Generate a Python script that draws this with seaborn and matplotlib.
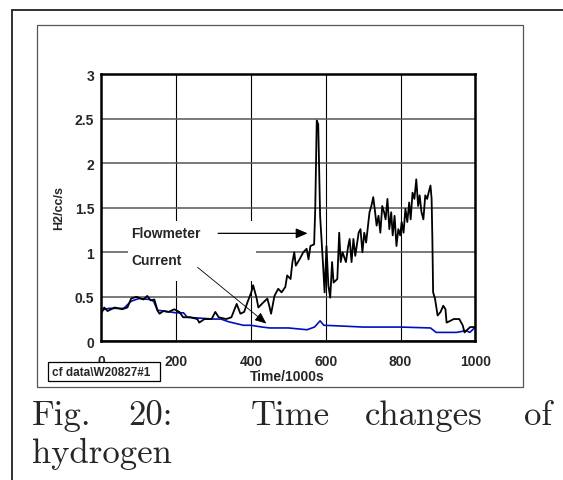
import matplotlib
matplotlib.use("Agg")
import matplotlib.pyplot as plt
import seaborn as sns
from matplotlib.lines import Line2D
from matplotlib.patches import Rectangle

# Flowmeter (black trace)
flow_time = [0, 8, 17, 36, 56, 70, 80, 94, 113, 123, 132, 142, 151, 156, 166, 180,
             195, 209, 219, 238, 257, 262, 276, 295, 305, 314, 334, 348, 362, 372,
             382, 391, 401, 406, 415, 420, 434, 444, 449, 454, 463, 473, 482, 492,
             497, 506, 511, 516, 520, 530, 540, 549, 554, 559, 569, 572, 576, 580,
             585, 590, 593, 597, 602, 607, 612, 617, 621, 631, 636, 640, 645, 654,
             660, 664, 669, 674, 679, 688, 693, 698, 703, 708, 717, 722, 727, 732,
             736, 741, 746, 751, 756, 760, 765, 770, 775, 779, 784, 789, 794, 799,
             803, 808, 813, 818, 823, 827, 832, 837, 842, 847, 851, 856, 861, 866,
             871, 875, 880, 883, 885, 887, 892, 899, 907, 914, 920, 923, 933, 942,
             957, 966, 971, 981, 986, 995, 1000]
flow_rate = [0.31, 0.38, 0.34, 0.38, 0.36, 0.38, 0.48, 0.50, 0.47, 0.51, 0.46, 0.47,
             0.34, 0.31, 0.34, 0.33, 0.36, 0.33, 0.27, 0.27, 0.25, 0.21, 0.25, 0.25,
             0.33, 0.27, 0.25, 0.27, 0.42, 0.31, 0.33, 0.44, 0.55, 0.63, 0.49, 0.38,
             0.44, 0.48, 0.40, 0.31, 0.51, 0.59, 0.55, 0.61, 0.74, 0.70, 0.89, 1.00,
             0.85, 0.92, 1.00, 1.04, 0.92, 1.07, 1.09, 1.49, 2.48, 2.44, 1.41, 1.07,
             0.85, 0.55, 1.07, 0.63, 0.49, 0.89, 0.66, 0.70, 1.22, 0.89, 1.00, 0.89,
             1.07, 1.15, 0.89, 1.15, 0.96, 1.22, 1.26, 1.00, 1.22, 1.11, 1.45, 1.52,
             1.62, 1.45, 1.30, 1.41, 1.22, 1.52, 1.45, 1.37, 1.60, 1.26, 1.45, 1.19,
             1.41, 1.07, 1.26, 1.19, 1.34, 1.22, 1.49, 1.34, 1.56, 1.37, 1.67, 1.60,
             1.82, 1.52, 1.64, 1.45, 1.37, 1.64, 1.60, 1.67, 1.75, 1.60, 1.15, 0.55,
             0.48, 0.29, 0.33, 0.40, 0.36, 0.21, 0.23, 0.25, 0.25, 0.18, 0.10, 0.14,
             0.16, 0.16, 0.16]

# Current (blue trace)
current_time = [0, 20, 60, 80, 100, 130, 140, 150, 200, 220, 230, 300, 320, 340,
                360, 380, 400, 430, 450, 500, 550, 570, 585, 595, 650, 700, 800,
                880, 895, 950, 975, 985, 995, 1000]
current_rate = [0.35, 0.37, 0.37, 0.45, 0.48, 0.47, 0.45, 0.35, 0.32, 0.32, 0.27,
                0.25, 0.25, 0.22, 0.20, 0.18, 0.18, 0.16, 0.15, 0.15, 0.13, 0.16,
                0.23, 0.18, 0.17, 0.16, 0.16, 0.15, 0.10, 0.10, 0.12, 0.10, 0.14,
                0.15]

x_ticks = [0, 200, 400, 600, 800, 1000]
y_ticks = [0, 0.5, 1, 1.5, 2, 2.5, 3]
x_minor = [100, 300, 500, 700, 900]
y_minor = [i / 10 for i in range(31)]

W, H = 563, 481

sns.set_theme(style="white")
plt.rcParams["font.family"] = ["Liberation Sans", "DejaVu Sans"]

fig = plt.figure(figsize=(W / 100, H / 100), dpi=100)
fig.patch.set_facecolor("white")


def fx(px):
    return px / W


def fy(py):
    return 1 - py / H


# page borders and chart frame
fig.add_artist(Line2D([fx(11.8), 1], [fy(10.5), fy(10.5)], color="#222", lw=1.3))
fig.add_artist(Line2D([fx(11.8), fx(11.8)], [fy(10.5), 0], color="#222", lw=1.3))
fig.add_artist(Rectangle((fx(37.3), fy(387.7)), fx(522.8) - fx(37.3), fy(25.7) - fy(387.7),
                         transform=fig.transFigure, fill=False, ec="#555", lw=0.9))

ax = fig.add_axes([fx(101.2), fy(342.3), (475.4 - 101.2) / W, (342.3 - 75.3) / H])

ax.add_patch(Rectangle((0.072, 0.226), 0.342, 0.224, transform=ax.transAxes,
                       fc="white", ec="none", zorder=1.5))

sns.lineplot(x=current_time, y=current_rate, color="#0010c0", lw=1.2, ax=ax,
             estimator=None, sort=False, zorder=3)
sns.lineplot(x=flow_time, y=flow_rate, color="black", lw=1.3, ax=ax,
             estimator=None, sort=False, zorder=4)

ax.set_xlim(0, 1000)
ax.set_ylim(0, 3)
ax.set_xticks(x_ticks)
ax.set_yticks(y_ticks)
ax.set_xticks(x_minor, minor=True)
ax.set_yticks(y_minor, minor=True)
ax.set_xticklabels([str(t) for t in x_ticks], fontweight="bold", fontsize=10)
ax.set_yticklabels(["0", "0.5", "1", "1.5", "2", "2.5", "3"], fontweight="bold", fontsize=10)
ax.tick_params(axis="both", which="both", direction="in", top=False, right=False,
               color="black", width=0.9)
ax.tick_params(axis="both", which="major", length=0)
ax.tick_params(axis="both", which="minor", length=5)
ax.tick_params(axis="x", which="major", pad=9)
ax.tick_params(axis="y", which="major", pad=5)

ax.xaxis.grid(True, color="black", lw=0.8)
ax.yaxis.grid(True, color="#555", lw=1.1)
ax.set_axisbelow(True)
for s in ax.spines.values():
    s.set_color("black")
    s.set_linewidth(1.8)
    s.set_visible(True)
    s.set_zorder(5)

ax.set_xlabel("Time/1000s", fontweight="bold", fontsize=10, va="top")
ax.xaxis.set_label_coords(0.497, -0.105)
ax.set_ylabel("H2/cc/s", fontweight="bold", fontsize=9, va="center", ha="center")
ax.yaxis.set_label_coords(-0.113, 0.503)

ax.text(80, 1.22, "Flowmeter", fontweight="bold", fontsize=10, va="center", zorder=6)
ax.text(80, 0.91, "Current", fontweight="bold", fontsize=10, va="center", zorder=6)
ax.annotate("", xy=(559, 1.213), xytext=(305, 1.213),
            arrowprops=dict(arrowstyle="-|>,head_length=0.7,head_width=0.3",
                            color="black", lw=0.9, mutation_scale=10), zorder=6)
ax.annotate("", xy=(447, 0.18), xytext=(252, 0.85),
            arrowprops=dict(arrowstyle="-|>,head_length=0.7,head_width=0.3",
                            color="black", lw=0.6, mutation_scale=10), zorder=6)

# file tag box (white, covers the bottom of the "0" tick label)
fig.add_artist(Rectangle((fx(48.4), fy(382)), fx(159.7) - fx(48.4), fy(363) - fy(382),
                         transform=fig.transFigure, fc="white", ec="black", lw=0.9,
                         zorder=10))
fig.text(fx(52), fy(373.5), "cf data\\W20827#1", fontweight="bold", fontsize=8.5,
         va="center", ha="left", zorder=11)

# caption
serif = ["cmr10", "Liberation Serif", "DejaVu Serif"]
for word, px in [("Fig.", 32.3), ("20:", 128.5), ("Time", 251), ("changes", 365), ("of", 524)]:
    fig.text(fx(px), fy(425), word, family=serif, fontsize=25, va="baseline", ha="left")
fig.text(fx(32.3), fy(463), "hydrogen", family=serif, fontsize=25, va="baseline", ha="left")

fig.savefig("out.png", dpi=100, facecolor="white")
